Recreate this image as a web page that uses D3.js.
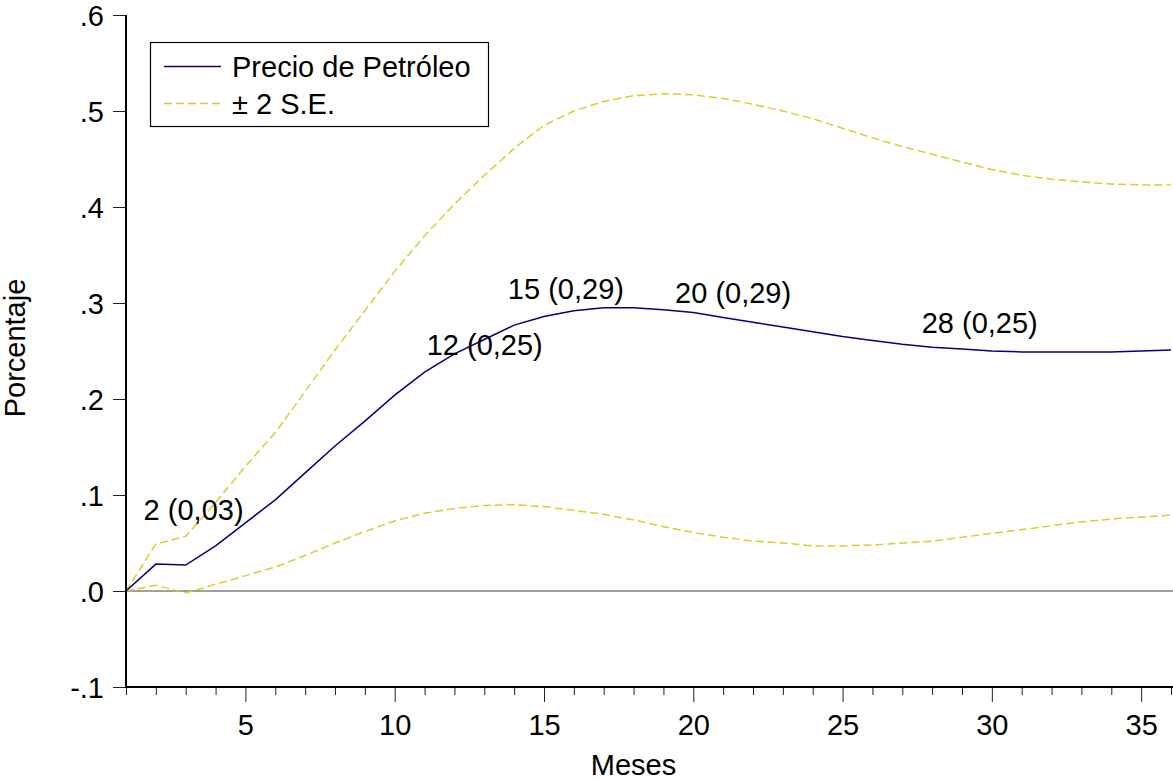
<!DOCTYPE html>
<html>
<head>
<meta charset="utf-8">
<script src="https://cdn.jsdelivr.net/npm/d3@7"></script>
<style>
  html, body { margin: 0; padding: 0; background: #fff; }
  svg { display: block; font-family: "Liberation Sans", Arial, sans-serif; }
</style>
</head>
<body>
<svg id="chart" width="1173" height="780"></svg>
<script>
// ---- data ----
const months = d3.range(1, 37);
const precio = [0, 0.028, 0.027, 0.047, 0.071, 0.095, 0.123, 0.151, 0.177, 0.204,
  0.228, 0.247, 0.262, 0.277, 0.286, 0.292, 0.295, 0.295, 0.293, 0.290,
  0.285, 0.280, 0.275, 0.270, 0.265, 0.261, 0.257, 0.254, 0.252, 0.250,
  0.249, 0.249, 0.249, 0.249, 0.250, 0.251];
const upper = [0, 0.049, 0.057, 0.092, 0.130, 0.165, 0.208, 0.251, 0.292, 0.333,
  0.370, 0.403, 0.433, 0.461, 0.485, 0.500, 0.510, 0.516, 0.518, 0.517,
  0.513, 0.507, 0.500, 0.492, 0.482, 0.472, 0.463, 0.455, 0.447, 0.439,
  0.433, 0.429, 0.426, 0.424, 0.423, 0.423];
const lower = [0, 0.006, -0.002, 0.007, 0.016, 0.025, 0.037, 0.050, 0.062, 0.073,
  0.081, 0.086, 0.089, 0.090, 0.088, 0.084, 0.080, 0.074, 0.067, 0.061,
  0.056, 0.052, 0.050, 0.047, 0.047, 0.048, 0.050, 0.052, 0.056, 0.060,
  0.064, 0.068, 0.072, 0.075, 0.077, 0.079];
const yTickValues = [-0.1, 0, 0.1, 0.2, 0.3, 0.4, 0.5, 0.6];
const yTickLabels = ["-.1", ".0", ".1", ".2", ".3", ".4", ".5", ".6"];
const xMajorTicks = [5, 10, 15, 20, 25, 30, 35];
const seriesNames = ["Precio de Petróleo", "± 2 S.E."];
const annotText = ["2 (0,03)", "12 (0,25)", "15 (0,29)", "20 (0,29)", "28 (0,25)"];
// annotation anchors in data units (month, value)
const annotMonth = [1.59, 11.07, 13.79, 19.39, 27.65];
const annotValue = [0.074, 0.246, 0.304, 0.300, 0.269];

// ---- layout ----
const svg = d3.select("#chart");
const X0 = 126, X1 = 1171, Y0 = 687, Y1 = 15;
const FS = 29;
const x = d3.scaleLinear().domain([1, 36]).range([X0, X1]);
const y = d3.scaleLinear().domain([-0.1, 0.6]).range([Y0, Y1]);
const blue = "#000080", yellow = "#E0CB2C";

// zero line
svg.append("line")
  .attr("x1", X0).attr("x2", 1173)
  .attr("y1", y(0)).attr("y2", y(0))
  .attr("stroke", "#808080").attr("stroke-width", 1.5);

// lines
const line = d3.line().x((d, i) => x(months[i])).y(d => y(d)).curve(d3.curveLinear);
svg.append("path").datum(upper).attr("d", line)
  .attr("fill", "none").attr("stroke", yellow).attr("stroke-width", 1.5)
  .attr("stroke-dasharray", "8,4");
svg.append("path").datum(lower).attr("d", line)
  .attr("fill", "none").attr("stroke", yellow).attr("stroke-width", 1.5)
  .attr("stroke-dasharray", "8,4");
svg.append("path").datum(precio).attr("d", line)
  .attr("fill", "none").attr("stroke", blue).attr("stroke-width", 1.5);

// y axis
const yAxis = d3.axisLeft(y).tickValues(yTickValues)
  .tickFormat((d, i) => yTickLabels[i]).tickSize(13).tickPadding(9);
const gy = svg.append("g").attr("transform", `translate(${X0},0)`).call(yAxis);
gy.select(".domain").remove();
gy.selectAll(".tick line").attr("stroke", "#222").attr("stroke-width", 1);
gy.selectAll(".tick text").attr("font-size", FS).attr("font-family", "Liberation Sans, Arial, sans-serif")
  .attr("fill", "#000").attr("dy", "0.36em");
svg.append("line").attr("x1", X0).attr("x2", X0).attr("y1", Y1).attr("y2", Y0 + 1)
  .attr("stroke", "#000").attr("stroke-width", 2);

// x axis
const xAxis = d3.axisBottom(x).tickValues(months)
  .tickFormat(d => xMajorTicks.includes(d) ? String(d) : "").tickSize(8).tickPadding(0);
const gx = svg.append("g").attr("transform", `translate(0,${Y0})`).call(xAxis);
gx.select(".domain").remove();
gx.selectAll(".tick line").attr("stroke", "#222").attr("stroke-width", 1)
  .attr("y2", d => xMajorTicks.includes(d) ? 15 : 8);
gx.selectAll(".tick text").attr("font-size", FS).attr("font-family", "Liberation Sans, Arial, sans-serif")
  .attr("fill", "#000").attr("y", 48).attr("dy", 0);
svg.append("line").attr("x1", X0 - 1).attr("x2", 1173).attr("y1", Y0).attr("y2", Y0)
  .attr("stroke", "#000").attr("stroke-width", 2);

// axis titles
svg.append("text").attr("x", (X0 + 1141) / 2).attr("y", 775)
  .attr("text-anchor", "middle").attr("font-size", FS).text("Meses");
svg.append("text").attr("transform", `translate(25,${348}) rotate(-90)`)
  .attr("text-anchor", "middle").attr("font-size", FS).text("Porcentaje");

// annotations
annotText.forEach((t, i) => {
  svg.append("text").attr("x", x(annotMonth[i])).attr("y", y(annotValue[i]))
    .attr("font-size", FS).attr("fill", "#000").text(t);
});

// legend
const lg = svg.append("g");
lg.append("rect").attr("x", 150.5).attr("y", 42.5).attr("width", 338).attr("height", 84)
  .attr("fill", "#fff").attr("stroke", "#000").attr("stroke-width", 1.2);
const legY = [66.5, 103.5];
lg.append("line").attr("x1", 164).attr("x2", 221).attr("y1", legY[0]).attr("y2", legY[0])
  .attr("stroke", blue).attr("stroke-width", 1.5);
lg.append("line").attr("x1", 164).attr("x2", 221).attr("y1", legY[1]).attr("y2", legY[1])
  .attr("stroke", yellow).attr("stroke-width", 1.5).attr("stroke-dasharray", "8,4");
seriesNames.forEach((n, i) => {
  lg.append("text").attr("x", 232).attr("y", legY[i] + 10)
    .attr("font-size", FS).attr("fill", "#000").text(n);
});
</script>
</body>
</html>
